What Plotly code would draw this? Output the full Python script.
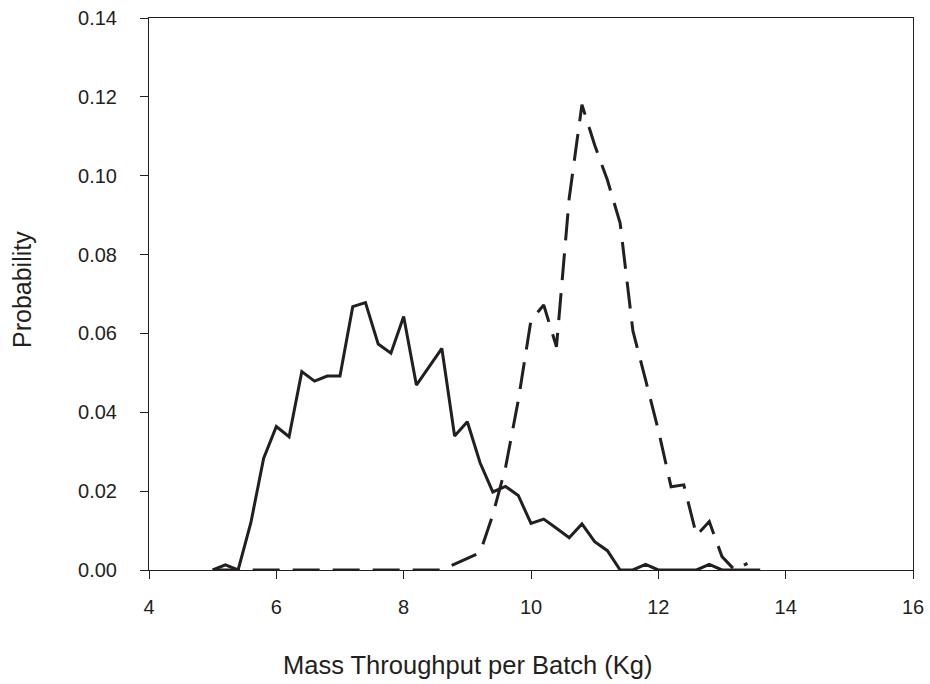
import plotly.graph_objects as go

# Mass throughput per batch (Kg)
x_solid = [5.0, 5.2, 5.4, 5.6, 5.8, 6.0, 6.2, 6.4, 6.6, 6.8, 7.0, 7.2, 7.4, 7.6, 7.8,
           8.0, 8.2, 8.4, 8.6, 8.8, 9.0, 9.2, 9.4, 9.6, 9.8, 10.0, 10.2, 10.4, 10.6,
           10.8, 11.0, 11.2, 11.4, 11.6, 11.8, 12.0, 12.2, 12.4, 12.6, 12.8, 13.0,
           13.2, 13.4, 13.6]
p_solid = [0.0, 0.0013, 0.0, 0.012, 0.0283, 0.0364, 0.0338, 0.0503, 0.0479, 0.0492,
           0.0492, 0.0668, 0.0678, 0.0573, 0.0550, 0.0643, 0.0469, 0.0515, 0.0562,
           0.0340, 0.0376, 0.0272, 0.0198, 0.0212, 0.0189, 0.0118, 0.0129, 0.0106,
           0.0082, 0.0117, 0.0072, 0.0049, 0.0, 0.0, 0.0014, 0.0, 0.0, 0.0, 0.0,
           0.0014, 0.0, 0.0, 0.0, 0.0]

x_dash = [5.0, 5.2, 5.4, 5.6, 5.8, 6.0, 6.2, 6.4, 6.6, 6.8, 7.0, 7.2, 7.4, 7.6, 7.8,
          8.0, 8.2, 8.4, 8.6, 8.8, 9.0, 9.2, 9.4, 9.6, 9.8, 10.0, 10.2, 10.4, 10.6,
          10.8, 11.0, 11.2, 11.4, 11.6, 11.8, 12.0, 12.2, 12.4, 12.6, 12.8, 13.0,
          13.2, 13.4]
p_dash = [0.0, 0.0, 0.0, 0.0, 0.0, 0.0, 0.0, 0.0, 0.0, 0.0, 0.0, 0.0, 0.0, 0.0, 0.0,
          0.0, 0.0, 0.0, 0.0, 0.0015, 0.0029, 0.0044, 0.014, 0.026, 0.043, 0.0634,
          0.0672, 0.0566, 0.0943, 0.1180, 0.1078, 0.0989, 0.0880, 0.0607, 0.0482,
          0.0355, 0.0211, 0.0216, 0.0088, 0.0123, 0.0034, 0.0, 0.0017]

x_ticks = [4, 6, 8, 10, 12, 14, 16]
y_ticks = [0.00, 0.02, 0.04, 0.06, 0.08, 0.10, 0.12, 0.14]
y_tick_text = ["0.00", "0.02", "0.04", "0.06", "0.08", "0.10", "0.12", "0.14"]

INK = "#231f20"
FONT = "Liberation Sans, Arial, sans-serif"

fig = go.Figure()
fig.add_trace(go.Scatter(x=x_solid, y=p_solid, mode="lines",
                         line=dict(color=INK, width=3), showlegend=False))
fig.add_trace(go.Scatter(x=x_dash, y=p_dash, mode="lines",
                         line=dict(color=INK, width=3, dash="27px,13px"),
                         showlegend=False))

axis_common = dict(showgrid=False, zeroline=False, showline=True, linecolor=INK,
                   linewidth=1, mirror=True, ticks="outside", ticklen=8,
                   tickcolor=INK, tickwidth=1,
                   tickfont=dict(family=FONT, size=20, color=INK))

fig.update_xaxes(range=[4, 16], tickvals=x_ticks, ticklabelstandoff=11, **axis_common)
fig.update_yaxes(range=[0, 0.14], tickvals=y_ticks, ticktext=y_tick_text,
                 ticklabelstandoff=19, **axis_common)

fig.update_layout(
    width=930, height=684,
    margin=dict(l=149, r=17, t=18, b=114, autoexpand=False),
    paper_bgcolor="white", plot_bgcolor="white",
    font=dict(family=FONT, color=INK),
    annotations=[
        dict(text="Mass Throughput per Batch (Kg)", xref="paper", yref="paper",
             x=(467 - 149) / 764, y=0, yshift=-95, xanchor="center", yanchor="middle",
             showarrow=False, font=dict(family=FONT, size=25.5, color=INK)),
        dict(text="Probability", xref="paper", yref="paper",
             x=0, xshift=-127, y=(570 - 290) / 552, xanchor="center", yanchor="middle",
             textangle=-90, showarrow=False, font=dict(family=FONT, size=25, color=INK)),
    ],
)

fig.write_html("out.html", config={"displayModeBar": False},
               post_script="document.body.style.margin='0';document.body.style.overflow='hidden';")
